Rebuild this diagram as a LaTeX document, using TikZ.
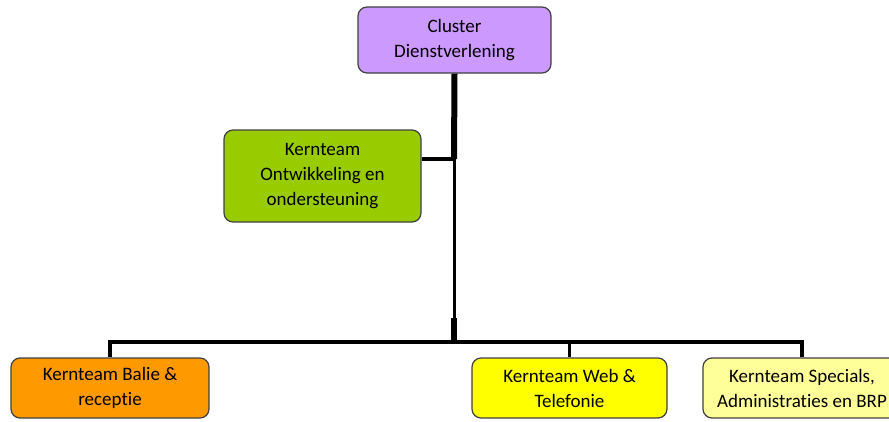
\documentclass[tikz,border=0pt]{standalone}
\usepackage{fontspec}
\setmainfont[Ligatures = CommonOff]{Carlito}
\usepackage{color}

\definecolor{clusterpurple}{RGB}{204,153,255}
\definecolor{teamgreen}{RGB}{153,204,0}
\definecolor{teamorange}{RGB}{255,153,0}
\definecolor{teamyellow}{RGB}{255,255,0}
\definecolor{teamlight}{RGB}{255,255,153}

\begin{document}
\begin{tikzpicture}[x = 1pt, y = -1pt,
  box/.style = {draw = black!75, line width = 1.2pt, rounded corners = 9pt,
    align = center, inner sep = 0pt, font = \fontsize{19}{25}\selectfont},
  link/.style = {line width = 3.5pt, line join = miter}]
\useasboundingbox (0, 0) rectangle (889, 421);

\node[box, fill = clusterpurple, minimum width = 193, minimum height = 66] at (454.5, 40) (top) {Cluster\\Dienstverlening};
\node[box, fill = teamgreen, minimum width = 197, minimum height = 92] at (322.5, 176) (dev) {Kernteam\\Ontwikkeling en\\ondersteuning};

\node[box, fill = teamorange, minimum width = 198, minimum height = 60] at (110, 388) (balie) {Kernteam Balie \&\\receptie};
\node[box, fill = teamyellow, minimum width = 195, minimum height = 60] at (569.5, 388) (web) {Kernteam Web \&\\Telefonie};
\node[box, fill = teamlight, minimum width = 198, minimum height = 60] at (802, 388) (spec) {Kernteam Specials,\\Administraties en BRP};

\coordinate (joint) at (454, 159);
\coordinate (stub) at (454, 318);
\coordinate (hub) at (454, 342);

% trunk
\draw[line width = 6pt] (top.south) -- (joint);
\draw[line width = 3pt] (joint) -- (stub);
\draw[line width = 6pt] (stub) -- (hub);
\draw[link] (dev.east |- joint) -- (joint);

% teams
\draw[link] (hub) -| (balie.north);
\draw[link] (hub) -| (web.north);
\draw[link] (hub) -| (spec.north);

\end{tikzpicture}
\end{document}
